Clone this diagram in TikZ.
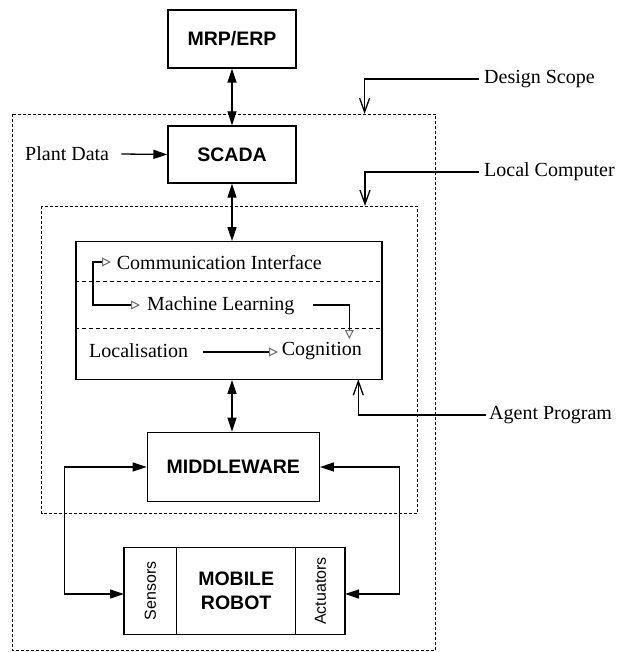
\documentclass[tikz,border=0pt]{standalone}
\usepackage{fontspec}
\usepackage{graphicx}
\setmainfont{Liberation Serif}
\setsansfont{Liberation Sans}
\usetikzlibrary{arrows.meta}
\begin{document}
\begin{tikzpicture}[x=1pt,y=-1pt,
  box/.style={draw,line width=1.3pt,inner sep=0pt,align=center,font=\sffamily\bfseries\fontsize{19.5}{23.5}\selectfont},
  sidebox/.style={draw,line width=1.3pt,inner sep=0pt,font=\sffamily\fontsize{16}{18}\selectfont},
  lbl/.style={font=\fontsize{20}{22}\selectfont,inner sep=0pt},
  scopebox/.style={draw,line width=0.9pt,dash pattern=on 3pt off 2pt},
  sepline/.style={line width=0.9pt,dash pattern=on 4pt off 3pt},
  bi/.style={line width=1.3pt,{Triangle[length=14pt,width=9pt]}-{Triangle[length=14pt,width=9pt]}},
  one/.style={line width=1.3pt,-{Triangle[length=14pt,width=9pt]}},
  callout/.style={line width=1.3pt,-{Straight Barb[length=14pt,width=10pt]}},
  hollow/.style={line width=1.1pt,-{Triangle[open,length=9pt,width=9pt,color=black!55]}},
  hollowbi/.style={line width=1.1pt,{Triangle[open,length=9pt,width=9pt,color=black!55]}-{Triangle[open,length=9pt,width=9pt,color=black!55]}},
]
\useasboundingbox (0,0) rectangle (618,652);

% scope rectangles
\draw[scopebox] (12,114) rectangle (435.5,650);
\draw[scopebox] (41.5,206) rectangle (417,513.7);

% main boxes
\node[box,minimum width=128pt,minimum height=58pt] (mrp) at (232,39) {MRP/ERP};
\node[box,minimum width=128pt,minimum height=57pt] (scada) at (232,154.5) {SCADA};
\node[draw,line width=1.3pt,inner sep=0pt,minimum width=306pt,minimum height=137.6pt] (agent) at (229,310.5) {};
\node[box,minimum width=172pt,minimum height=69.4pt] (mw) at (233.3,467) {MIDDLEWARE};
\node[sidebox,minimum width=52.7pt,minimum height=86.6pt] (sens) at (150.35,591) {\rotatebox{90}{Sensors}};
\node[box,minimum width=119pt,minimum height=86.6pt] (robot) at (236.2,591) {MOBILE\\ROBOT};
\node[sidebox,minimum width=49.3pt,minimum height=86.6pt] (act) at (320.35,591) {\rotatebox{90}{Actuators}};

% agent program internals
\draw[sepline] (agent.west |- 0,281.7) -- (agent.east |- 0,281.7);
\draw[sepline] (agent.west |- 0,328) -- (agent.east |- 0,328);
\node[lbl,anchor=west] (ci) at (116.7,263) {Communication Interface};
\node[lbl,anchor=west] (ml) at (147,306) {Machine Learning};
\node[lbl,anchor=west] (loc) at (89,351) {Localisation};
\node[lbl,anchor=west] (cog) at (281.7,351) {Cognition};
\coordinate (ciTip) at (111,262);
\coordinate (brTop) at (93,262);
\coordinate (brBot) at (93,305);
\coordinate (mlTip) at (140,305);
\draw[hollowbi] (ciTip) -- (brTop) -- (brBot) -- (mlTip);
\coordinate (mlOut) at (312.7,305);
\coordinate (mlTurn) at (349.3,305);
\coordinate (cogTip) at (349.3,339);
\draw[hollow] (mlOut) -- (mlTurn) -- (cogTip);
\coordinate (locOut) at (203,352);
\coordinate (locTip) at (278,352);
\draw[hollow] (locOut) -- (locTip);

% vertical connections
\draw[bi] (mrp.south) -- (scada.north);
\draw[bi] (scada.south) -- (scada.south |- agent.north);
\draw[bi] (scada.south |- agent.south) -- (scada.south |- mw.north);

% plant data
\node[lbl,anchor=west] (pd) at (25,154) {Plant Data};
\draw[one] ([xshift=12pt]pd.east) -- (scada.west);

% sensor / actuator loops
\coordinate (lc) at (64.3,594);
\coordinate (sIn) at (124,594);
\coordinate (rc) at (399.3,594);
\coordinate (aIn) at (345,594);
\draw[bi] (mw.west) -| (lc) -- (sIn);
\draw[bi] (mw.east) -| (rc) -- (aIn);

% callouts
\node[lbl,anchor=west] (ds) at (484,79) {Design Scope};
\coordinate (dsTip) at (364.6,114);
\draw[callout] ([xshift=-5pt]ds.west) -| (dsTip);
\node[lbl,anchor=west] (lcomp) at (484,172) {Local Computer};
\coordinate (lcTip) at (365,206);
\draw[callout] ([xshift=-5pt]lcomp.west) -| (lcTip);
\node[lbl,anchor=west] (ap) at (489,415) {Agent Program};
\coordinate (apTip) at (358.3,379.3);
\draw[callout] ([xshift=-3pt]ap.west) -| (apTip);
\end{tikzpicture}
\end{document}
